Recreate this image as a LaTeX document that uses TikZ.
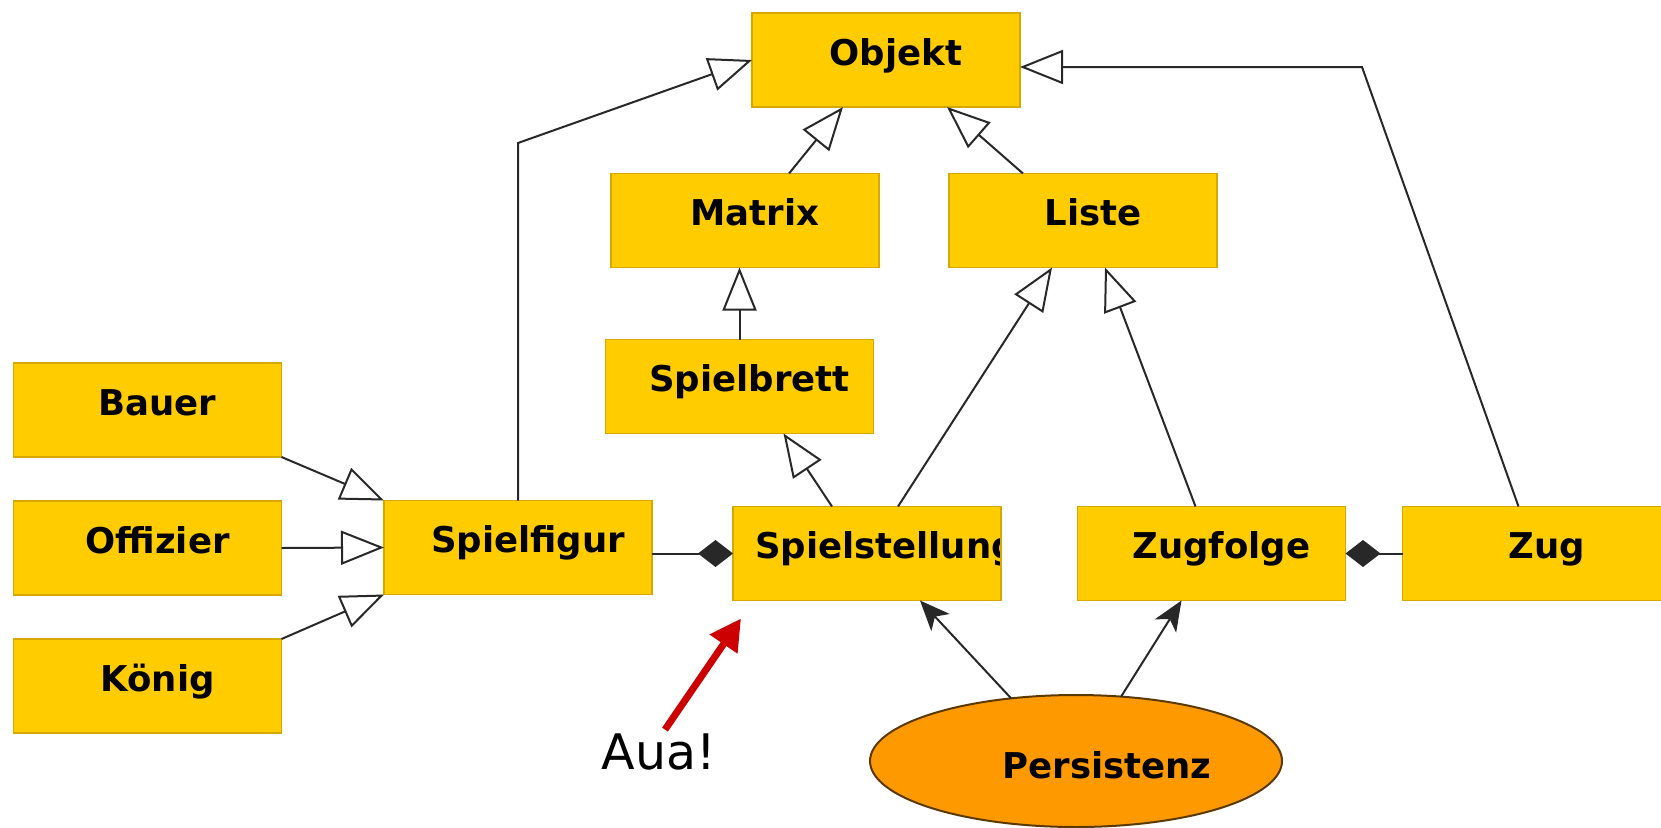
\documentclass[tikz,border=0pt]{standalone}
\usepackage{fontspec}
\setmainfont{DejaVu Sans}
\definecolor{boxfill}{RGB}{255,204,0}
\definecolor{boxedge}{RGB}{214,168,0}
\definecolor{persfill}{RGB}{255,153,0}
\definecolor{persedge}{RGB}{90,58,0}
\definecolor{auacol}{RGB}{204,0,0}
\definecolor{linecol}{RGB}{40,40,40}
\usetikzlibrary{arrows.meta, shapes.geometric, calc}

\newcommand{\boxfont}{\fontsize{35.5}{42}\selectfont\bfseries}

\begin{document}
\begin{tikzpicture}[x=1pt, y=-1pt,
  classbase/.style={rectangle, fill=boxfill, draw=boxedge, line width=1.5pt,
    minimum width=268pt, minimum height=94pt, inner sep=0pt, outer sep=0pt,
    font=\boxfont, text height=26.6pt, text depth=16pt},
  classbox/.style={classbase, execute at begin node={\hspace*{20pt}}},
  persist/.style={ellipse, fill=persfill, draw=persedge, line width=2pt,
    minimum width=412pt, minimum height=132pt, inner sep=0pt, outer sep=0pt},
  gen/.style={linecol, line width=2pt, -{Triangle[open, length=43pt, width=34pt]}},
  comp/.style={linecol, line width=2pt, -{Diamond[length=35pt, width=27pt]}},
  dep/.style={linecol, line width=2pt, -{Stealth[length=30pt, width=25pt, inset=8pt]}},
  warn/.style={auacol, line width=7pt, -{Triangle[length=31pt, width=32pt]}}]

  \useasboundingbox (0,0) rectangle (1661,827);

  % Top classes
  \node[classbox] (objekt) at (886,60) {Objekt};
  \node[classbox] (matrix) at (745,220.5) {Matrix};
  \node[classbox] (liste) at (1083,220.5) {Liste};
  \node[classbox] (spielbrett) at (739.5,386.5) {Spielbrett};

  % Pieces
  \foreach \name/\lbl/\ypos in
    {bauer/Bauer/410, offizier/Offizier/548, koenig/König/686} {
    \node[classbox] (\name) at (147.5,\ypos) {\lbl};
  }
  \node[classbox] (spielfigur) at (518,547.5) {Spielfigur};

  % Middle row (label of Spielstellung is cut by its box)
  \node[classbase, path picture={
      \node[anchor=base west, font=\boxfont, inner sep=0pt]
        at ([xshift=19pt, yshift=-5pt]path picture bounding box.west)
        {Spielstellung};}] (spielstellung) at (867,553.5) {};
  \node[classbox] (zugfolge) at (1211.5,553.5) {Zugfolge};
  \node[classbox] (zug) at (1536.5,553.5) {Zug};

  % Persistence
  \node[persist] (persistenz) at (1076,761) {};
  \node[font=\boxfont, inner sep=0pt] (persistenzlbl)
    at ([xshift=31pt, yshift=-4pt]persistenz.center) {Persistenz};

  % Generalisations
  \coordinate (figbend) at (518,143);
  \coordinate (zugbend) at (1362,67);
  \draw[gen] (spielfigur.north) -- (figbend) -- (objekt.west);
  \draw[gen] ([xshift=-18pt]zug.north) -- (zugbend) -- ([yshift=-7pt]objekt.east);
  \draw[gen] ([xshift=44pt]matrix.north) -- ([xshift=-43pt]objekt.south);
  \draw[gen] ([xshift=-60pt]liste.north) -- ([xshift=61pt]objekt.south);
  \draw[gen] (spielbrett.north) -- (spielbrett.north |- matrix.south);
  \draw[gen] ([xshift=-35pt]spielstellung.north) -- ([xshift=44pt]spielbrett.south);
  \draw[gen] ([xshift=31pt]spielstellung.north) -- ([xshift=-31pt]liste.south);
  \draw[gen] ([xshift=-16pt]zugfolge.north) -- ([xshift=22pt]liste.south);
  \draw[gen] (bauer.south east) -- (spielfigur.north west);
  \draw[gen] (offizier.east) -- (spielfigur.west);
  \draw[gen] (koenig.north east) -- (spielfigur.south west);

  % Compositions
  \draw[comp] (spielfigur.east |- spielstellung.west) -- (spielstellung.west);
  \draw[comp] (zug.west) -- (zugfolge.east);

  % Dependencies
  \draw[dep] (persistenz.136) -- ([xshift=53pt]spielstellung.south);
  \draw[dep] (persistenz.55) -- ([xshift=-30pt]zugfolge.south);

  % Annotation
  \node[font=\fontsize{49}{58}\selectfont, inner sep=0pt] (aua) at (659,752) {Aua!};
  \coordinate (auatip) at ([xshift=8pt, yshift=-18pt]spielstellung.south west);
  \draw[warn] ([xshift=6pt, yshift=4pt]aua.north) -- (auatip);

\end{tikzpicture}
\end{document}
